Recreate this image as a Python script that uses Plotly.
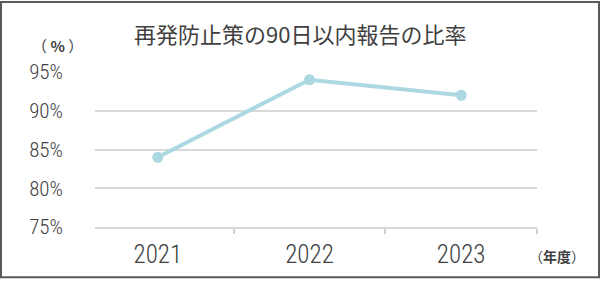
import plotly.graph_objects as go

years = ["2021", "2022", "2023"]
ratio = [84, 94, 92]
y_ticks = [75, 80, 85, 90, 95]
y_labels = [f"{v}%" for v in y_ticks]

W, H = 600, 281
ML, MR, MT, MB = 95, 63, 72, 52
pw, ph = W - ML - MR, H - MT - MB

fig = go.Figure()
fig.add_trace(go.Scatter(
    x=years, y=ratio, mode="lines+markers",
    line=dict(color="#abd8e1", width=4),
    marker=dict(color="#abd8e1", size=11),
    cliponaxis=False, hoverinfo="skip",
))

cjk = "Noto Sans CJK JP"
num = "Roboto Condensed, Noto Sans CJK JP"

def py(p):
    return (H - MB - p) / ph

def px(p):
    return (p - ML) / pw

fig.update_layout(
    width=W, height=H,
    margin=dict(l=ML, r=MR, t=MT, b=MB),
    paper_bgcolor="white", plot_bgcolor="white",
    showlegend=False,
    xaxis=dict(
        type="category", range=[-0.414, 2.5], tickson="boundaries", ticks="outside",
        ticklen=5, tickcolor="#d0d0d0", tickwidth=1.5,
        showgrid=False, showline=True, linecolor="#d9d9d9", linewidth=2,
        tickfont=dict(family=num, size=25, color="#404040", weight=300),
        ticklabelstandoff=4,
        fixedrange=True,
    ),
    yaxis=dict(
        range=[75, 95], tickvals=y_ticks, ticktext=y_labels,
        showgrid=True, gridcolor="#d9d9d9", gridwidth=2,
        zeroline=False, showline=False,
        ticklabelstandoff=31,
        tickfont=dict(family=num, size=21, color="#404040", weight=300),
        fixedrange=True,
    ),
    annotations=[
        dict(text="再発防止策の90日以内報告の比率", xref="paper", yref="paper",
             x=px(300), y=py(33), showarrow=False,
             xanchor="center", yanchor="middle",
             font=dict(family=cjk, size=22, color="#404040")),
        dict(text="（ <b>%</b> ）", xref="paper", yref="paper",
             x=px(57), y=py(45), showarrow=False,
             xanchor="center", yanchor="middle",
             font=dict(family=cjk, size=15, color="#404040")),
        dict(text="（<b>年度</b>）", xref="paper", yref="paper",
             x=px(557), y=py(258), showarrow=False,
             xanchor="center", yanchor="middle",
             font=dict(family=cjk, size=14, color="#404040")),
    ],
    shapes=[
        dict(type="rect", xref="paper", yref="paper",
             x0=px(1), x1=px(W - 1), y0=py(H - 1), y1=py(1),
             line=dict(color="#5a5a5a", width=2), fillcolor="rgba(0,0,0,0)",
             layer="above"),
    ],
)

fig.write_html("out.html")
